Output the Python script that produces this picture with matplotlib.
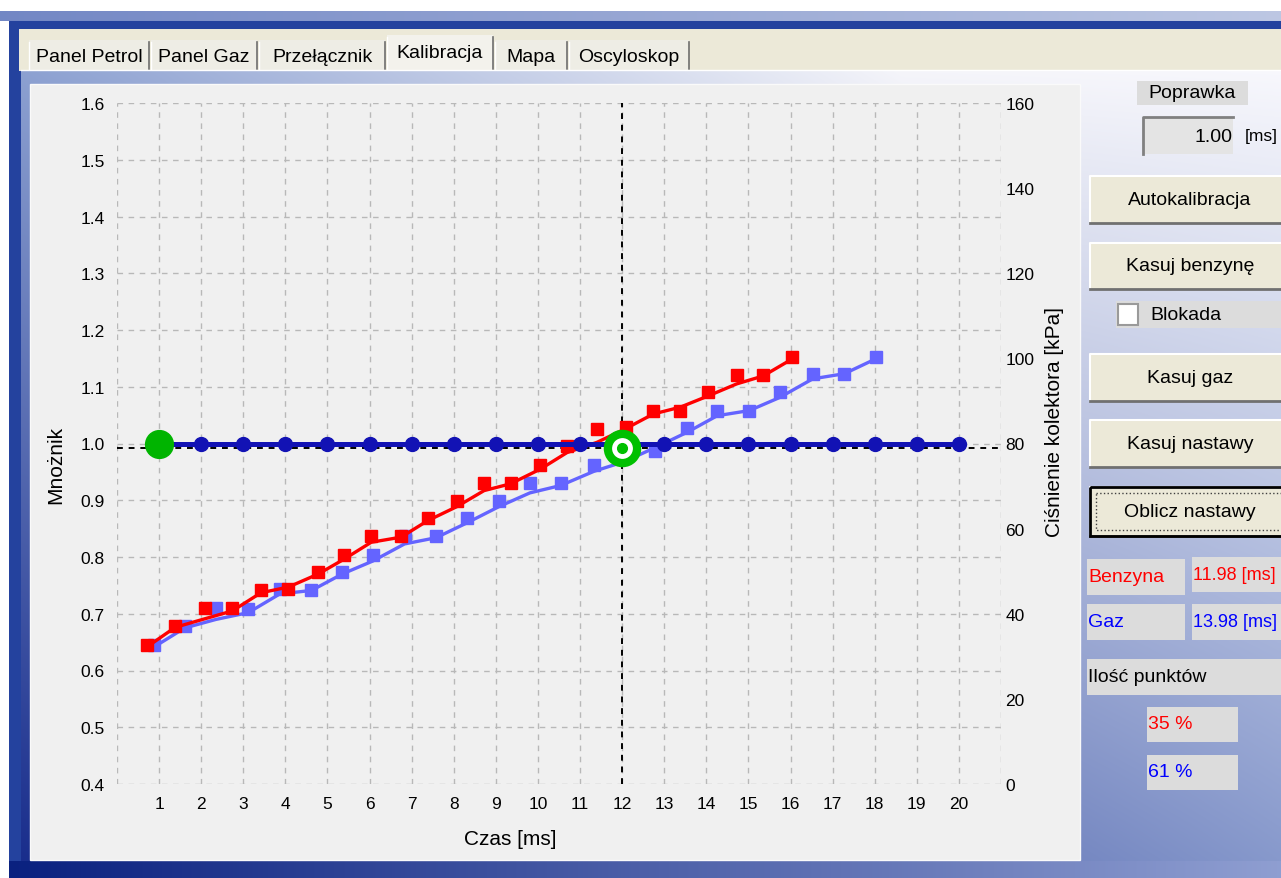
import matplotlib
matplotlib.use("Agg")
import matplotlib.pyplot as plt
import numpy as np
from matplotlib.patches import Rectangle

# ---------------- data ----------------
red_pts_x = [0.72, 1.38, 2.08, 2.74, 3.42, 4.07, 4.78, 5.39, 6.04, 6.75, 7.38, 8.08,
             8.72, 9.35, 10.06, 10.69, 11.40, 12.08, 12.74, 13.38, 14.05, 14.72, 15.35, 16.04]
red_pts_y = [0.645, 0.678, 0.710, 0.710, 0.742, 0.744, 0.773, 0.804, 0.837, 0.837, 0.868, 0.899,
             0.930, 0.930, 0.962, 0.996, 1.026, 1.029, 1.058, 1.058, 1.090, 1.120, 1.120, 1.152]
red_line_y = [0.642, 0.676, 0.691, 0.705, 0.737, 0.747, 0.770, 0.796, 0.826, 0.835, 0.864, 0.889,
              0.917, 0.929, 0.955, 0.984, 1.002, 1.026, 1.052, 1.064, 1.084, 1.105, 1.119, 1.149]

blue_pts_x = [0.87, 1.61, 2.35, 3.12, 3.87, 4.62, 5.35, 6.08, 6.83, 7.58, 8.31, 9.08,
              9.81, 10.54, 11.33, 12.79, 13.55, 14.26, 15.02, 15.74, 16.53, 17.28, 18.02]
blue_pts_y = [0.645, 0.678, 0.710, 0.708, 0.744, 0.741, 0.773, 0.804, 0.837, 0.837, 0.868, 0.899,
              0.930, 0.930, 0.962, 0.987, 1.027, 1.058, 1.058, 1.090, 1.122, 1.122, 1.152]
blue_line_x = [0.87, 1.61, 2.35, 3.12, 3.87, 4.62, 5.35, 6.08, 6.83, 7.58, 8.31, 9.08,
               9.81, 10.54, 11.33, 12.05, 12.79, 13.55, 14.26, 15.02, 15.74, 16.53, 17.28, 18.02]
blue_line_y = [0.641, 0.675, 0.690, 0.702, 0.735, 0.741, 0.770, 0.793, 0.823, 0.834, 0.860, 0.889,
               0.913, 0.926, 0.951, 0.968, 0.993, 1.020, 1.049, 1.058, 1.081, 1.114, 1.123, 1.149]

base_x = list(range(1, 21))
base_y = [1.0] * 20

start_point = (1, 1.0)
cross_point = (12, 0.992)

x_ticks = list(range(1, 21))
left_ticks = [0.4, 0.5, 0.6, 0.7, 0.8, 0.9, 1.0, 1.1, 1.2, 1.3, 1.4, 1.5, 1.6]
right_ticks = [0, 20, 40, 60, 80, 100, 120, 140, 160]

tabs = ["Panel Petrol", "Panel Gaz", "Przełącznik", "Kalibracja", "Mapa", "Oscyloskop"]

# ---------------- figure ----------------
W, H = 1281, 879
fig = plt.figure(figsize=(W / 100, H / 100), dpi=100)
plt.rcParams['font.family'] = ['Liberation Sans', 'DejaVu Sans']

bg = fig.add_axes([0, 0, 1, 1])
bg.set_xlim(0, W)
bg.set_ylim(H, 0)
bg.axis('off')


def rect(x0, y0, x1, y1, fc, ec='none', lw=0, z=1, **kw):
    bg.add_patch(Rectangle((x0, y0), x1 - x0, y1 - y0, facecolor=fc, edgecolor=ec,
                           linewidth=lw, zorder=z, **kw))


def hgrad(x0, y0, x1, y1, c0, c1, z=0.5):
    t = np.linspace(0, 1, 256)[None, :, None]
    img = np.array(c0)[None, None, :] * (1 - t) + np.array(c1)[None, None, :] * t
    bg.imshow(img, extent=(x0, x1, y1, y0), aspect='auto', zorder=z, interpolation='bilinear')


def text(x, y, s, size=14, color='black', ha='left', **kw):
    bg.text(x, y, s, fontsize=size, color=color, ha=ha, va='center', zorder=10, **kw)


# window decoration
rect(0, 0, W, H, 'white', z=0.1)
hgrad(0, 12, W, 22, (0.45, 0.53, 0.77), (0.74, 0.78, 0.89), z=0.6)
rect(9, 22, W, H, (0.14, 0.26, 0.62), z=0.7)
rect(19, 30, W, 72, (0.925, 0.914, 0.847), z=0.8)

# content area 2D gradient
xs = np.linspace(0, 1, 300)
ys = np.linspace(0, 1, 300)
top = np.stack([np.interp(xs, [0, 0.7, 1], [0.55, 0.96, 0.97]),
                np.interp(xs, [0, 0.7, 1], [0.63, 0.96, 0.97]),
                np.interp(xs, [0, 0.7, 1], [0.82, 0.98, 0.99])], axis=-1)
bot = np.stack([np.interp(xs, [0, 1], [0.10, 0.53]),
                np.interp(xs, [0, 1], [0.18, 0.60]),
                np.interp(xs, [0, 1], [0.55, 0.80])], axis=-1)
img = top[None, :, :] * (1 - ys[:, None, None]) + bot[None, :, :] * ys[:, None, None]
bg.imshow(img, extent=(21, W, 862, 72), aspect='auto', zorder=0.9, interpolation='bilinear')

# bottom band
hgrad(9, 862, W, H, (0.04, 0.13, 0.50), (0.56, 0.62, 0.82), z=0.95)

# chart panel
rect(30, 85, 1080, 861, '#F0F0F0', ec='#FAFAFA', lw=1, z=1)

# tabs
tab_edges = [28, 150, 258, 386, 494, 568, 690]
for i, name in enumerate(tabs):
    x0, x1 = tab_edges[i], tab_edges[i + 1]
    active = (name == "Kalibracja")
    y0 = 36 if active else 41
    rect(x0 + 1, y0, x1 - 1, 71, '#F3F2EC' if active else '#EEEDE5', z=1.1)
    bg.plot([x1 - 1, x1 - 1], [y0 + 2, 70], color='#6E6E6E', lw=1.2, zorder=1.2)
    bg.plot([x0 + 1, x0 + 1], [y0 + 2, 70], color='white', lw=1.0, zorder=1.2)
    text((x0 + x1) / 2, 54 if active else 57, name, size=14, ha='center')
bg.plot([21, W], [71, 71], color='white', lw=1, zorder=1.3)

# right panel widgets
rect(1137, 82, 1248, 106, '#DCDCDC', z=2)
text(1192, 94, "Poprawka", ha='center')
rect(1143, 118, 1233, 155, '#E4E4E4', z=2)
bg.plot([1143, 1143, 1233], [155, 118, 118], color='#808080', lw=2, zorder=2.1)
text(1232, 137, "1.00", ha='right')
text(1245, 137, "[ms]", size=12.5)


def button(y0, y1, label, focus=False):
    rect(1090, y0, W + 5, y1, '#ECE9D8', z=2)
    bg.plot([1090, 1090, W], [y1, y0, y0], color='white', lw=1.5, zorder=2.1)
    bg.plot([1090, W], [y1, y1], color='#707070', lw=2, zorder=2.1)
    if focus:
        rect(1090, y0, W + 5, y1, 'none', ec='black', lw=2, z=2.2)
        rect(1096, y0 + 6, W + 5, y1 - 6, 'none', ec='#404040', lw=1, z=2.2, linestyle=':')
    text(1190, (y0 + y1) / 2, label, ha='center')


button(177, 224, "Autokalibracja")
button(244, 290, "Kasuj benzynę")
rect(1116, 302, W, 329, '#DCDCDC', z=2)
rect(1118, 305, 1138, 326, 'white', ec='#9A9A9A', lw=1.5, z=2.1)
text(1150, 316, "Blokada")
button(355, 402, "Kasuj gaz")
button(421, 468, "Kasuj nastawy")
button(488, 537, "Oblicz nastawy", focus=True)

rect(1087, 560, 1185, 596, '#DCDCDC', z=2)
text(1088, 578, "Benzyna", color='#FF0000')
rect(1192, 558, W, 593, '#DCDCDC', z=2)
text(1193, 576, "11.98 [ms]", color='#FF0000', size=13)
rect(1087, 605, 1185, 641, '#DCDCDC', z=2)
text(1088, 623, "Gaz", color='#0000FF')
rect(1192, 605, W, 641, '#DCDCDC', z=2)
text(1193, 623, "13.98 [ms]", color='#0000FF', size=13)
rect(1087, 660, W, 696, '#DCDCDC', z=2)
text(1088, 678, "Ilość punktów")
rect(1147, 708, 1238, 743, '#DCDCDC', z=2)
text(1148, 725, "35 %", color='#FF0000')
rect(1147, 756, 1238, 791, '#DCDCDC', z=2)
text(1148, 773, "61 %", color='#0000FF')

# ---------------- chart ----------------
ax = fig.add_axes([117 / W, (H - 785) / H, 884 / W, 681 / H])
ax.set_facecolor('#F0F0F0')
ax.set_xlim(0, 21)
ax.set_ylim(0.4, 1.6)
ax.set_xticks(range(0, 22))
ax.set_xticklabels([''] + [str(v) for v in x_ticks] + [''])
ax.set_yticks(left_ticks)
ax.set_yticklabels([f"{v:.1f}" for v in left_ticks])
ax.tick_params(axis='both', length=0, labelsize=12.5, colors='black')
ax.tick_params(axis='y', pad=9)
ax.tick_params(axis='x', pad=9)
for s in ax.spines.values():
    s.set_visible(False)
ax.grid(True, color='#B8B8B8', linestyle=(0, (4, 4)), linewidth=1.0)
ax.set_axisbelow(True)

ax.set_xlabel("Czas [ms]", fontsize=15)
ax.xaxis.set_label_coords(0.445, -0.066)
ax.set_ylabel("Mnożnik", fontsize=15)
ax.yaxis.set_label_coords(-0.058, 0.47)

ax.axhline(cross_point[1], color='black', linestyle=(0, (3, 3)), lw=1.4, zorder=1.5)
ax.axvline(cross_point[0], color='black', linestyle=(0, (3, 3)), lw=1.4, zorder=1.5)

ax.plot(blue_line_x, blue_line_y, color='#6464FF', lw=2.4, zorder=2)
ax.plot(blue_pts_x, blue_pts_y, 's', color='#6464FF', ms=8.5, zorder=2)
ax.plot(red_pts_x, red_line_y, color='#FF0000', lw=2.4, zorder=2.2)
ax.plot(red_pts_x, red_pts_y, 's', color='#FF0000', ms=8.5, zorder=2.2)

ax.plot(base_x, base_y, '-o', color='#1212B4', lw=3.6, ms=10, zorder=3)

ax.plot(*start_point, 'o', color='#00B400', ms=20, zorder=4)
ax.plot(*cross_point, 'o', mfc='white', mec='#00C000', mew=6, ms=21, zorder=5)
ax.plot(*cross_point, 'o', color='#00C000', ms=7, zorder=6)

ax2 = ax.twinx()
ax2.set_ylim(0, 160)
ax2.set_yticks(right_ticks)
ax2.tick_params(axis='y', length=0, labelsize=12.5, pad=3)
for s in ax2.spines.values():
    s.set_visible(False)
ax2.set_ylabel("Ciśnienie kolektora [kPa]", fontsize=15)
ax2.yaxis.set_label_coords(1.050, 0.533)

fig.savefig("out.png", dpi=100)
